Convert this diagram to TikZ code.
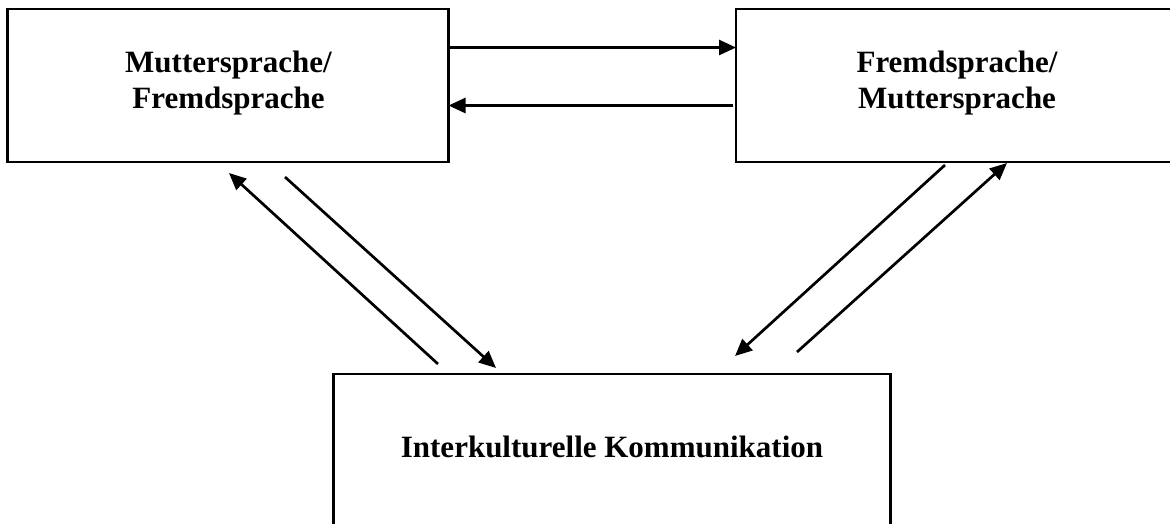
\documentclass[tikz,border=0pt]{standalone}
\usepackage{fontspec}
\setmainfont{Liberation Serif}
\usetikzlibrary{arrows.meta,calc}
\begin{document}
\begin{tikzpicture}[x=1pt,y=-1pt,
  box/.style={draw, line width=2.9pt, inner sep=0pt, outer sep=0pt},
  label/.style={font=\fontsize{31}{36}\selectfont\bfseries, align=center, inner sep=0pt, anchor=base},
  link/.style={line width=2.7pt, -{Triangle[length=17pt,width=15pt]}}]
  \fill[white] (0,0) rectangle (1170,523);
  \useasboundingbox (0,0) rectangle (1170,523);
  \clip (0,0) rectangle (1170,523);

  % the three boxes
  \node[box, minimum width=441pt, minimum height=153pt] (boxL) at (228,85.5) {};
  \node[box, minimum width=444pt, minimum height=153pt] (boxR) at (958,85.5) {};
  \node[box, minimum width=557pt, minimum height=171pt] (boxB) at (612,459.5) {};

  % box texts (anchored on the baseline of the last line)
  \node[label] (tL) at (228.5,108) {Muttersprache/\\Fremdsprache};
  \node[label] (tR) at (957,108) {Fremdsprache/\\Muttersprache};
  \node[label] (tB) at (612,457) {Interkulturelle Kommunikation};

  % horizontal exchange between the upper boxes
  \draw[link] ([yshift=-38.5pt]boxL.north east) -- ([yshift=-38.5pt]boxR.north west);
  \draw[link] ([yshift=-96.5pt,xshift=-3pt]boxR.north west) -- ([yshift=-96.5pt]boxL.north east);

  % free ends of the diagonal arrows
  \coordinate (la1) at (438,364);
  \coordinate (lb1) at (229,173);
  \coordinate (la2) at (285,177);
  \coordinate (lb2) at (496,368);
  \coordinate (ra1) at (945,165);
  \coordinate (rb1) at (735,356);
  \coordinate (ra2) at (797,352);
  \coordinate (rb2) at (1007,163);

  \draw[link] (la1) -- (lb1);
  \draw[link] (la2) -- (lb2);
  \draw[link] (ra1) -- (rb1);
  \draw[link] (ra2) -- (rb2);
\end{tikzpicture}
\end{document}
